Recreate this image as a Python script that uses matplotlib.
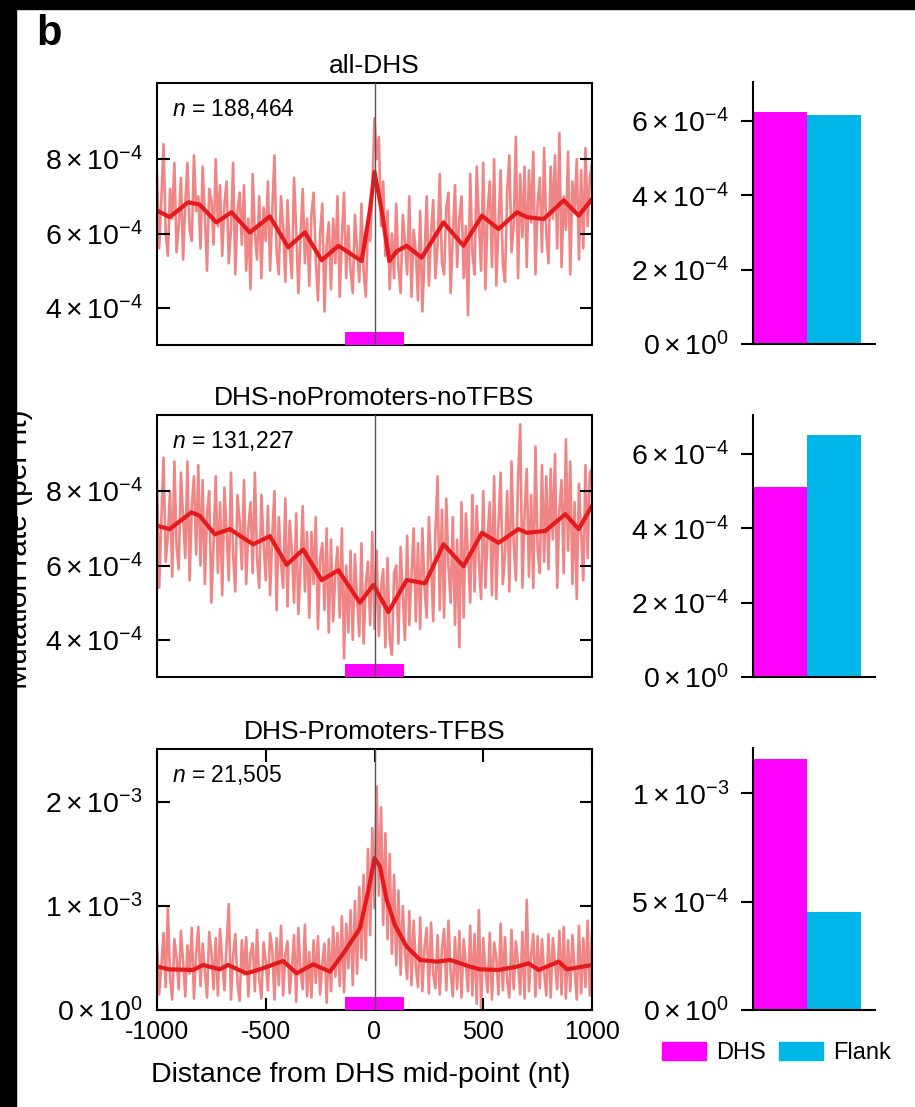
import numpy as np
import matplotlib
matplotlib.use('Agg')
import matplotlib.pyplot as plt
from matplotlib.patches import Rectangle, Patch
from matplotlib.transforms import blended_transform_factory

plt.rcParams['font.family'] = ['Liberation Sans', 'DejaVu Sans']
plt.rcParams['mathtext.fontset'] = 'custom'
plt.rcParams['mathtext.rm'] = 'Liberation Sans'
plt.rcParams['mathtext.it'] = 'Liberation Sans:italic'
plt.rcParams['mathtext.bf'] = 'Liberation Sans:bold'

panel_titles = ['all-DHS', 'DHS-noPromoters-noTFBS', 'DHS-Promoters-TFBS']
panel_n = ['188,464', '131,227', '21,505']

# per-position mutation rate, every 10 nt from -1000 to 1000 (units of 1e-4)
raw_pos = np.arange(-1000, 1001, 10)
raw_all = [
    7.6, 5.6, 6.9, 8.4, 6.0, 5.4, 7.2, 6.4, 7.9, 5.5,
    6.2, 7.5, 5.3, 6.8, 7.9, 6.1, 5.8, 8.1, 6.6, 7.0,
    5.6, 7.8, 6.5, 5.0, 7.2, 6.9, 5.7, 8.0, 6.2, 7.3,
    5.4, 6.8, 7.4, 5.2, 6.1, 7.9, 4.9, 6.6, 7.1, 5.7,
    7.3, 5.0, 6.4, 4.5, 7.6, 6.0, 5.3, 7.0, 4.8, 6.7,
    5.8, 7.4, 5.0, 6.6, 8.1, 5.5, 4.9, 7.0, 6.2, 4.7,
    6.9, 5.6, 4.8, 7.5, 6.1, 4.4, 5.9, 7.2, 5.2, 6.4,
    4.6, 6.5, 7.1, 5.3, 4.2, 6.0, 6.8, 3.9, 5.7, 6.3,
    4.5, 6.4, 5.2, 7.0, 4.3, 5.9, 7.1, 4.8, 6.2, 5.0,
    4.4, 6.5, 5.6, 4.7, 6.8, 5.0, 4.3, 6.3, 5.8, 7.2,
    9.1, 8.0, 8.6, 6.2, 7.4, 5.4, 6.6, 4.5, 6.0, 4.8,
    6.8, 5.1, 4.4, 6.5, 5.8, 4.9, 7.0, 4.3, 6.1, 5.5,
    4.2, 6.6, 3.9, 5.4, 7.0, 4.6, 6.0, 6.9, 4.8, 5.7,
    7.6, 5.2, 4.9, 6.7, 7.1, 4.4, 5.9, 7.3, 5.1, 6.4,
    7.0, 4.8, 6.2, 3.8, 7.6, 5.5, 4.9, 7.8, 6.3, 5.0,
    7.9, 4.5, 6.6, 7.4, 5.1, 8.0, 4.6, 6.2, 7.7, 5.2,
    4.7, 7.1, 8.1, 5.5, 6.2, 8.6, 4.8, 7.6, 5.9, 7.8,
    5.1, 7.7, 6.3, 8.2, 4.9, 6.8, 7.5, 5.5, 8.3, 6.0,
    5.2, 7.8, 6.4, 8.1, 5.6, 8.7, 5.1, 7.0, 6.1, 8.2,
    4.9, 7.4, 6.6, 8.0, 5.3, 7.7, 5.6, 8.3, 6.2, 7.5,
    7.9]
raw_noprom = [
    8.3, 5.4, 7.2, 8.9, 6.1, 6.8, 8.0, 5.7, 8.8, 6.5,
    5.9, 8.5, 7.3, 6.2, 8.8, 5.6, 7.6, 8.4, 6.3, 8.7,
    6.0, 8.3, 5.5, 7.4, 8.0, 5.0, 6.6, 8.4, 5.8, 7.7,
    5.2, 8.1, 6.9, 5.6, 8.5, 6.3, 5.3, 7.9, 7.2, 5.9,
    8.3, 5.5, 7.0, 7.7, 5.8, 8.5, 6.2, 5.4, 7.9, 6.6,
    5.6, 7.6, 5.2, 6.8, 8.0, 4.8, 7.3, 6.1, 5.4, 7.8,
    4.9, 7.2, 6.4, 5.0, 7.4, 4.7, 6.0, 7.6, 5.3, 6.9,
    4.6, 6.9, 5.5, 7.3, 4.3, 6.2, 6.6, 4.8, 7.0, 4.2,
    6.7, 4.5, 5.8, 6.5, 4.6, 7.0, 3.5, 6.0, 4.2, 6.4,
    4.0, 6.3, 5.1, 4.1, 6.6, 3.9, 5.5, 6.1, 4.4, 6.9,
    4.3, 6.4, 4.1, 5.4, 5.9, 3.8, 6.2, 4.0, 3.6, 5.8,
    6.0, 3.9, 6.5, 5.2, 4.0, 6.8, 4.4, 5.7, 7.0, 4.5,
    6.6, 4.3, 7.0, 5.4, 4.6, 7.3, 6.1, 4.5, 6.9, 8.4,
    4.8, 7.5, 4.6, 7.8, 6.0, 5.0, 7.3, 4.4, 6.7, 3.8,
    7.7, 4.6, 7.4, 6.3, 5.0, 7.9, 5.3, 7.6, 6.1, 5.1,
    8.0, 5.4, 6.8, 7.7, 5.2, 8.4, 5.1, 7.1, 8.5, 5.5,
    6.3, 8.0, 5.3, 8.8, 6.6, 5.6, 8.3, 9.8, 5.4, 7.4,
    8.6, 5.7, 7.9, 5.4, 9.2, 6.4, 5.8, 8.7, 6.1, 8.4,
    5.9, 8.6, 6.7, 9.0, 5.4, 7.5, 8.3, 5.8, 9.4, 6.4,
    8.8, 5.5, 7.7, 5.1, 8.2, 6.9, 5.6, 8.7, 6.2, 8.5,
    8.6]
raw_prom = [
    6.5, 1.5, 4.2, 7.4, 2.2, 9.9, 3.1, 1.0, 6.8, 5.0,
    2.0, 7.6, 4.6, 1.3, 6.2, 3.5, 7.9, 1.1, 5.4, 8.0,
    2.3, 6.4, 3.8, 1.2, 7.5, 5.6, 2.0, 6.9, 1.4, 7.8,
    4.4, 1.9, 6.3, 10.2, 1.0, 5.2, 7.3, 2.6, 0.9, 6.7,
    3.4, 7.0, 1.3, 5.5, 6.4, 1.8, 7.7, 3.0, 1.1, 6.5,
    4.7, 1.9, 7.4, 5.8, 1.0, 6.9, 2.4, 8.1, 1.4, 5.3,
    6.6, 1.6, 4.0, 7.2, 0.8, 7.9, 3.6, 2.0, 8.2, 1.3,
    5.6, 1.2, 6.7, 2.6, 7.1, 1.5, 4.5, 6.4, 0.7, 6.8,
    1.8, 8.0, 3.2, 7.4, 2.3, 9.0, 1.7, 8.3, 4.0, 9.6,
    2.4, 10.5, 3.5, 11.8, 5.0, 13.0, 4.8, 15.5, 7.2, 17.5,
    9.8, 21.5, 11.0, 19.5, 8.2, 17.0, 6.8, 15.0, 5.4, 13.0,
    4.3, 11.5, 3.4, 10.0, 5.6, 3.0, 9.5, 2.4, 8.6, 4.1,
    2.2, 8.9, 1.8, 6.0, 7.9, 1.6, 8.4, 3.4, 2.1, 7.2,
    1.5, 5.9, 7.8, 1.9, 8.6, 3.7, 1.3, 7.0, 2.0, 7.6,
    1.2, 6.8, 4.4, 1.8, 8.1, 1.4, 7.3, 0.6, 9.6, 0.2,
    6.9, 3.9, 1.7, 7.4, 1.0, 6.5, 5.0, 1.5, 8.3, 1.9,
    7.0, 2.8, 1.2, 7.7, 2.0, 6.6, 4.4, 1.5, 7.5, 1.1,
    10.6, 1.8, 5.3, 7.3, 1.3, 7.1, 2.1, 6.8, 3.6, 1.4,
    7.3, 1.2, 6.9, 4.6, 2.0, 7.6, 1.5, 8.0, 1.1, 6.7,
    1.8, 7.2, 3.9, 1.0, 8.1, 1.6, 6.9, 2.2, 8.6, 1.4,
    7.5]

# smoothed profile (units of 1e-4)
smooth_all_x = [-1000, -942, -857, -804, -727, -658, -573, -481, -397, -320,
                -243, -166, -59, -21, 0, 33, 68, 102, 148, 217,
                317, 409, 494, 570, 655, 701, 778, 870, 939, 1000]
smooth_all_y = [6.62, 6.44, 6.84, 6.78, 6.30, 6.57, 6.03, 6.46, 5.63, 6.03,
                5.28, 5.67, 5.26, 6.62, 7.66, 6.62, 5.26, 5.52, 5.67, 5.35,
                6.30, 5.67, 6.48, 6.12, 6.57, 6.44, 6.39, 6.89, 6.48, 6.93]
smooth_noprom_x = [-1000, -942, -842, -804, -734, -665, -558, -481, -404, -328,
                   -243, -166, -67, -5, 64, 148, 233, 317, 409, 494,
                   570, 662, 701, 785, 877, 939, 1000]
smooth_noprom_y = [7.07, 6.98, 7.43, 7.34, 6.84, 6.98, 6.57, 6.79, 6.02, 6.43,
                   5.61, 5.87, 5.00, 5.48, 4.75, 5.61, 5.52, 6.57, 5.98, 6.88,
                   6.61, 6.98, 6.88, 6.93, 7.38, 6.98, 7.61]
smooth_prom_x = [-1000, -942, -834, -788, -711, -673, -589, -527, -420, -358,
                 -282, -205, -143, -67, -28, 0, 25, 56, 94, 148,
                 210, 286, 348, 440, 486, 570, 655, 708, 755, 847,
                 885, 1000]
smooth_prom_y = [4.17, 3.91, 3.85, 4.33, 3.91, 4.33, 3.53, 3.91, 4.71, 3.53,
                 4.39, 3.69, 5.45, 7.85, 11.5, 14.6, 13.8, 10.6, 8.17, 6.09,
                 4.81, 4.65, 4.81, 4.17, 3.91, 3.85, 4.17, 4.49, 3.85, 4.65,
                 3.91, 4.33]

dhs_half_width = 135

# mean rate inside the DHS and in the flanks
bar_labels = ['DHS', 'Flank']
bar_all = [6.23e-4, 6.16e-4]
bar_noprom = [5.11e-4, 6.51e-4]
bar_prom = [1.157e-3, 4.54e-4]

line_ticks = [[4e-4, 6e-4, 8e-4], [4e-4, 6e-4, 8e-4], [0, 1e-3, 2e-3]]
line_ticklabels = [[r'$4\times10^{-4}$', r'$6\times10^{-4}$', r'$8\times10^{-4}$'],
                   [r'$4\times10^{-4}$', r'$6\times10^{-4}$', r'$8\times10^{-4}$'],
                   [r'$0\times10^{0}$', r'$1\times10^{-3}$', r'$2\times10^{-3}$']]
line_ylims = [(3e-4, 1.005e-3), (3e-4, 1.005e-3), (0, 2.51e-3)]
bar_ticks = [[0, 2e-4, 4e-4, 6e-4], [0, 2e-4, 4e-4, 6e-4], [0, 5e-4, 1e-3]]
bar_ticklabels = [[r'$0\times10^{0}$', r'$2\times10^{-4}$', r'$4\times10^{-4}$', r'$6\times10^{-4}$'],
                  [r'$0\times10^{0}$', r'$2\times10^{-4}$', r'$4\times10^{-4}$', r'$6\times10^{-4}$'],
                  [r'$0\times10^{0}$', r'$5\times10^{-4}$', r'$1\times10^{-3}$']]
bar_ylims = [(0, 7.05e-4), (0, 7.05e-4), (0, 1.21e-3)]
x_ticks = [-1000, -500, 0, 500, 1000]
x_ticklabels = ['-1000', '-500', '0', '500', '1000']

raw_sets = [raw_all, raw_noprom, raw_prom]
smooth_sets = [(smooth_all_x, smooth_all_y), (smooth_noprom_x, smooth_noprom_y),
               (smooth_prom_x, smooth_prom_y)]
bar_sets = [bar_all, bar_noprom, bar_prom]

MAGENTA = '#ff00ff'
CYAN = '#00b5e8'
NOISE = '#ef8585'
SMOOTH = '#e41a1c'

W, H = 915, 1107
fig = plt.figure(figsize=(W / 100, H / 100), dpi=100)
fig.patch.set_facecolor('white')

line_rows = [(83, 345), (415, 677), (749, 1010)]
bar_rows = [(82, 344), (415, 677), (748, 1010)]

for k in range(3):
    top, bot = line_rows[k]
    ax = fig.add_axes([157 / W, 1 - bot / H, 435 / W, (bot - top) / H])
    ax.plot(raw_pos, np.array(raw_sets[k]) * 1e-4, color=NOISE, lw=1.9, zorder=1)
    sx, sy = smooth_sets[k]
    ax.plot(sx, np.array(sy) * 1e-4, color=SMOOTH, lw=3.0, zorder=2,
            solid_joinstyle='round', solid_capstyle='round')
    ax.axvline(0, color='#555555', lw=1.0, zorder=4)
    trans = blended_transform_factory(ax.transData, ax.transAxes)
    ax.add_patch(Rectangle((-dhs_half_width, 0), 2 * dhs_half_width, 0.05,
                           transform=trans, color=MAGENTA, zorder=3, lw=0))
    ax.set_xlim(-1000, 1000)
    ax.set_ylim(*line_ylims[k])
    ax.set_yticks(line_ticks[k])
    ax.set_yticklabels(line_ticklabels[k])
    ax.tick_params(axis='y', direction='in', left=True, right=True, length=9,
                   width=1.5, labelsize=20.5, pad=10)
    if k == 2:
        ax.set_xticks(x_ticks)
        ax.set_xticklabels(x_ticklabels)
        ax.tick_params(axis='x', direction='in', top=True, bottom=True, length=9,
                       width=1.5, labelsize=18, pad=7)
        ax.set_xlabel('Distance from DHS mid-point (nt)', fontsize=20.5)
        ax.xaxis.set_label_coords(0.469, -0.2)
    else:
        ax.set_xticks([])
    for sp in ax.spines.values():
        sp.set_linewidth(1.5)
    ax.set_title(panel_titles[k], fontsize=19, pad=7)
    ax.text(0.034, 0.9, '$n$ = ' + panel_n[k], transform=ax.transAxes,
            fontsize=16.5, ha='left', va='center')

    top, bot = bar_rows[k]
    bx = fig.add_axes([753 / W, 1 - bot / H, 122 / W, (bot - top) / H])
    bx.bar([0, 1], bar_sets[k], width=1, align='edge', color=[MAGENTA, CYAN])
    bx.set_xlim(0, 2.26)
    bx.set_ylim(*bar_ylims[k])
    bx.set_yticks(bar_ticks[k])
    bx.set_yticklabels(bar_ticklabels[k])
    bx.set_xticks([])
    bx.tick_params(axis='y', direction='out', length=9, width=1.5,
                   labelsize=20.5, pad=8)
    bx.spines['top'].set_visible(False)
    bx.spines['right'].set_visible(False)
    bx.spines['left'].set_linewidth(1.5)
    bx.spines['bottom'].set_linewidth(1.5)

fig.text(33 / W, 1 - 549 / H, 'Mutation rate (per nt)', rotation=90,
         ha='right', va='center', fontsize=21.5)
fig.text(36 / W, 1 - 14 / H, 'b', ha='left', va='top', fontsize=30,
         fontweight='bold')

handles = [Patch(color=MAGENTA, label=bar_labels[0]),
           Patch(color=CYAN, label=bar_labels[1])]
fig.legend(handles=handles, ncol=2, loc='center left',
           bbox_to_anchor=(662 / W, 1 - 1053 / H), frameon=False,
           fontsize=17, handlelength=1.85, handleheight=0.8,
           columnspacing=0.55, handletextpad=0.45, borderpad=0,
           borderaxespad=0)

# dark frame along the top and left edges
fig.add_artist(Rectangle((0, 1 - 9 / H), 1, 9 / H, transform=fig.transFigure,
                         color='black', zorder=100))
fig.add_artist(Rectangle((0, 0), 16 / W, 1, transform=fig.transFigure,
                         color='black', zorder=100))

fig.savefig('out.png', dpi=100, facecolor='white')
